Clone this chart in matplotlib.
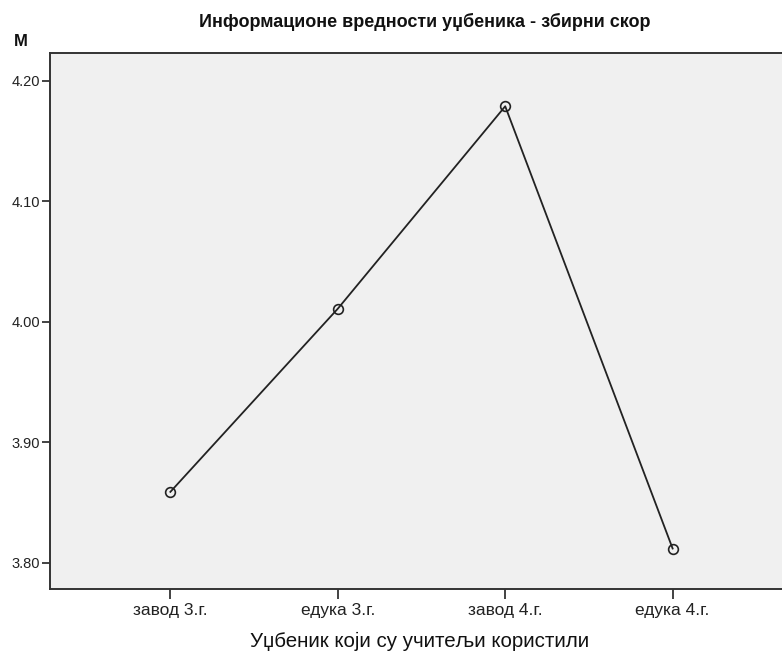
import matplotlib
matplotlib.use("Agg")
import matplotlib.pyplot as plt
from matplotlib import font_manager as fm

categories = ["завод 3.г.", "едука 3.г.", "завод 4.г.", "едука 4.г."]
means = [3.859, 4.011, 4.179, 3.812]
yticks = [3.80, 3.90, 4.00, 4.10, 4.20]

names = {f.name for f in fm.fontManager.ttflist}
fam = ["Liberation Sans Narrow", "Liberation Sans", "DejaVu Sans"]
fam = [f for f in fam if f in names] + ["DejaVu Sans"]
plt.rcParams["font.family"] = fam

W, H = 782, 654
fig = plt.figure(figsize=(W / 100, H / 100), dpi=100)
ax = fig.add_axes([50 / W, 1 - 589 / H, (W - 50) / W + 0.01, (589 - 53) / H])
ax.set_facecolor("#f0f0f0")

x = list(range(len(categories)))
ax.plot(x, means, color="#222222", lw=1.3, marker="o", markersize=7,
        markerfacecolor="none", markeredgecolor="#222222", markeredgewidth=1.2)

ax.set_ylim(3.7784, 4.2232)
ax.set_xlim(-0.719, 3.70)
ax.set_yticks(yticks)
ax.set_yticklabels([f"{v:.2f}" for v in yticks], fontsize=10.5)
ax.set_xticks(x)
ax.set_xticklabels(categories, fontsize=12.5)
ax.tick_params(axis="y", direction="out", length=6, width=1.2, pad=1, colors="#222222")
ax.tick_params(axis="x", direction="out", length=7, width=1.2, pad=3, colors="#222222")
for s in ["left", "bottom", "top"]:
    ax.spines[s].set_linewidth(1.4)
    ax.spines[s].set_color("#333333")
ax.spines["right"].set_visible(False)

ax.set_xlabel("Уџбеник који су учитељи користили", fontsize=14.8, labelpad=10, color="#111111")
fig.text(425 / W, 1 - 22 / H, "Информационе вредности уџбеника - збирни скор",
         ha="center", va="center", fontsize=13, fontweight="bold", color="#111111")
fig.text(21 / W, 1 - 42 / H, "M", ha="center", va="center", fontsize=12,
         fontweight="bold", color="#111111")

fig.savefig("out.png", dpi=100)
